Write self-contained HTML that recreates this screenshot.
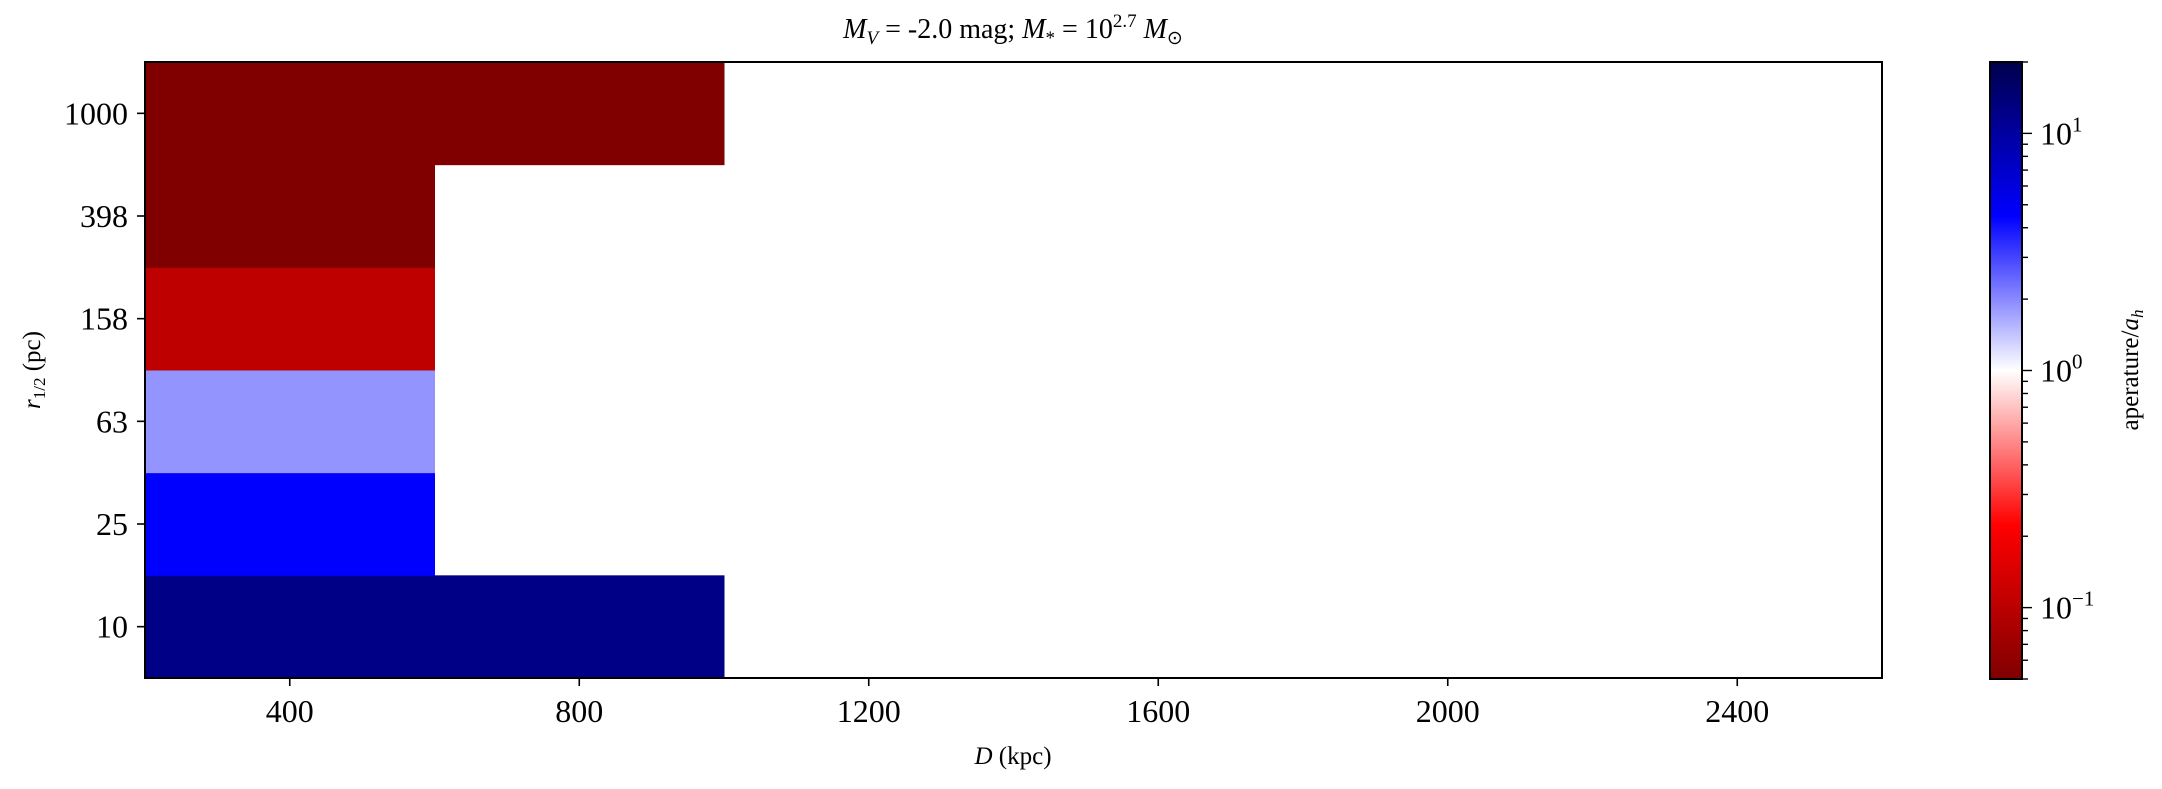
<!DOCTYPE html>
<html><head><meta charset="utf-8"><style>
html,body{margin:0;padding:0;background:#fff;}
svg{display:block;font-family:"Liberation Serif",serif;}
</style></head><body>
<svg id="chart" width="2162" height="789" viewBox="0 0 2162 789" xmlns="http://www.w3.org/2000/svg">
<defs>
<linearGradient id="cbgrad" x1="0" y1="1" x2="0" y2="0">
<stop offset="0" stop-color="#800000"/>
<stop offset="0.25" stop-color="#ff0000"/>
<stop offset="0.5" stop-color="#ffffff"/>
<stop offset="0.75" stop-color="#0000ff"/>
<stop offset="1" stop-color="#00004d"/>
</linearGradient>
</defs>
<g id="cells"></g>
<rect x="145" y="62" width="1737" height="616" fill="none" stroke="#000" stroke-width="2"/>
<g id="axes"></g>
<text x="1013" y="38" font-size="28" text-anchor="middle"><tspan font-style="italic">M</tspan><tspan font-style="italic" font-size="19" dy="6">V</tspan><tspan dy="-6"> = -2.0 mag; </tspan><tspan font-style="italic">M</tspan><tspan font-size="19" dy="6">*</tspan><tspan dy="-6"> = 10</tspan><tspan font-size="19" dy="-11">2.7</tspan><tspan dy="11"> </tspan><tspan font-style="italic">M</tspan><tspan font-size="19" dy="6">⊙</tspan></text>
<text x="1013" y="764" font-size="25" text-anchor="middle"><tspan font-style="italic">D</tspan> (kpc)</text>
<text transform="translate(40,370) rotate(-90)" font-size="25" text-anchor="middle"><tspan font-style="italic">r</tspan><tspan font-size="17" dy="5">1/2</tspan><tspan dy="-5"> (pc)</tspan></text>
<rect x="1990" y="62" width="32" height="617" fill="url(#cbgrad)" stroke="#000" stroke-width="2"/>
<g id="cbaxis"></g>
<text transform="translate(2138,370) rotate(-90)" font-size="25" text-anchor="middle">aperature/<tspan font-style="italic">a</tspan><tspan font-style="italic" font-size="17" dy="5">h</tspan></text>
</svg>
<script>
const xCats = [400, 800, 1200, 1600, 2000, 2400];
const yCats = ["10", "25", "63", "158", "398", "1000"];
const xTicks = [400, 800, 1200, 1600, 2000, 2400];
// values[row][col], row 0 = "10" (bottom); null = no data
const row10 = [12.2, 12.2, null, null, null, null];
const row25 = [4.5, null, null, null, null, null];
const row63 = [1.87, null, null, null, null, null];
const row158 = [0.106, null, null, null, null, null];
const row398 = [0.04, null, null, null, null, null];
const row1000 = [0.04, 0.04, null, null, null, null];
const values = [row10, row25, row63, row158, row398, row1000];
const cbTicks = [0.1, 1, 10];
const cbTickLabels = ["10", "10", "10"];
const cbTickExps = ["−1", "0", "1"];

const NS = "http://www.w3.org/2000/svg";
const PL = 145, PR = 1882, PT = 62, PB = 678;
const XMIN = 200, XMAX = 2600;
const VMIN = 0.05, VMAX = 20;
const CBT = 62, CBB = 679, CBL = 1990, CBR = 2022;
function xScale(v) { return PL + (v - XMIN) / (XMAX - XMIN) * (PR - PL); }
const cellW = (PR - PL) / xCats.length;
const cellH = (PB - PT) / yCats.length;
function yRow(i) { return PB - (i + 1) * cellH; }
function tNorm(v) { let t = (Math.log10(v) - Math.log10(VMIN)) / (Math.log10(VMAX) - Math.log10(VMIN)); return Math.max(0, Math.min(1, t)); }
function cbY(v) { return CBB - tNorm(v) * (CBB - CBT); }
function lerp(a, b, f) { return a + (b - a) * f; }
function cmap(v) {
  const s = 1 - tNorm(v);
  const stops = [[0, [0, 0, 0.3]], [0.25, [0, 0, 1]], [0.5, [1, 1, 1]], [0.75, [1, 0, 0]], [1, [0.5, 0, 0]]];
  for (let k = 0; k < stops.length - 1; k++) {
    const [a, ca] = stops[k], [b, cb] = stops[k + 1];
    if (s <= b) { const f = (s - a) / (b - a); return "rgb(" + ca.map((c, j) => Math.round(lerp(c, cb[j], f) * 255)).join(",") + ")"; }
  }
  return "rgb(128,0,0)";
}
function mk(tag, attrs, parent) { const e = document.createElementNS(NS, tag); for (const k in attrs) e.setAttribute(k, attrs[k]); parent.appendChild(e); return e; }

const cells = document.getElementById("cells");
values.forEach((row, i) => row.forEach((v, j) => {
  if (v === null) return;
  const x0 = xScale(xCats[j] - 200);
  const r = mk("rect", { x: x0, y: yRow(i), width: cellW + 0.5, height: cellH + 0.5, fill: cmap(v) }, cells);
  
  
}));

const axes = document.getElementById("axes");
xTicks.forEach(t => {
  const x = xScale(t);
  const l = mk("line", { x1: x, x2: x, y1: PB, y2: PB + 8, stroke: "#000", "stroke-width": 1.6 }, axes);
  
  
  const tx = mk("text", { x: x, y: PB + 44, "font-size": 32, "text-anchor": "middle" }, axes);
  tx.textContent = t;
  
  
});
yCats.forEach((c, i) => {
  const y = yRow(i) + cellH / 2;
  const l = mk("line", { x1: PL - 8, x2: PL, y1: y, y2: y, stroke: "#000", "stroke-width": 1.6 }, axes);
  
  
  const tx = mk("text", { x: PL - 17, y: y + 11, "font-size": 32, "text-anchor": "end" }, axes);
  tx.textContent = c;
  
  
});

const cba = document.getElementById("cbaxis");
for (let d = -2; d <= 1; d++) for (let m = 1; m <= 9; m++) {
  const v = m * Math.pow(10, d);
  if (v < VMIN || v > VMAX) continue;
  const y = cbY(v);
  const len = m === 1 ? 10 : 6;
  const l = mk("line", { x1: CBR, x2: CBR + len, y1: y, y2: y, stroke: "#000", "stroke-width": 1.4 }, cba);
  
  
}
cbTicks.forEach((v, i) => {
  const y = cbY(v);
  const tx = mk("text", { x: CBR + 18, y: y + 11, "font-size": 32 }, cba);
  
  
  tx.textContent = cbTickLabels[i];
  const sp = mk("tspan", { "font-size": 21, dy: -13 }, tx);
  sp.textContent = cbTickExps[i];
});
</script>
</body></html>
